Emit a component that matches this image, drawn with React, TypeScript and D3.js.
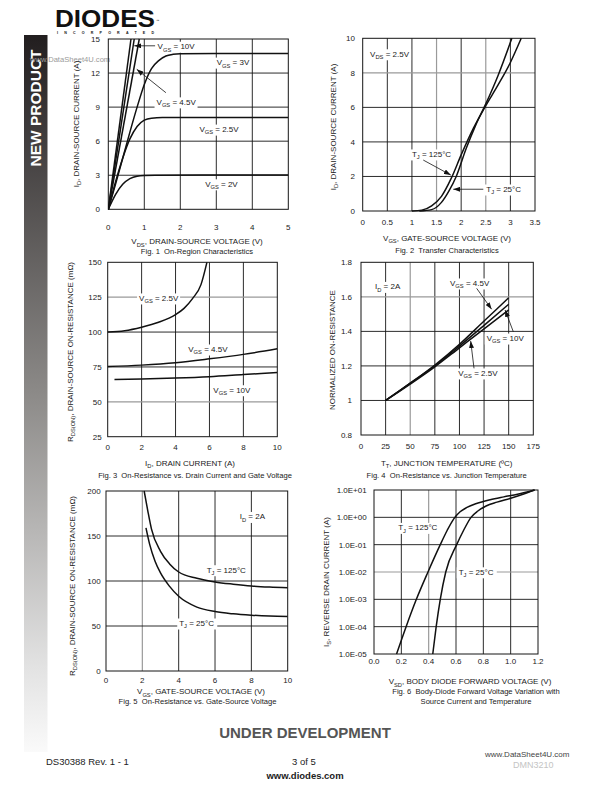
import React from 'react';
import * as d3 from 'd3';

const FONT = "'Liberation Sans', Arial, Helvetica, sans-serif";
type Pt = [number, number];

// ---------------- Fig. 1 On-Region Characteristics ----------------
const fig1XTicks = [0, 1, 2, 3, 4, 5];
const fig1YTicks = [0, 3, 6, 9, 12, 15];
const fig1Vgs10: Pt[] = [[0, 0], [0.63, 15]];
const fig1Vgs6: Pt[] = [[0, 0], [0.72, 15]];
const fig1Vgs45: Pt[] = [[0, 0], [0.86, 15]];
const fig1Vgs3: Pt[] = [[0, 0], [0.2, 2.2], [0.4, 4.5], [0.6, 6.8], [0.8, 9.0], [1.0, 11.0], [1.2, 12.4], [1.4, 13.1], [1.6, 13.5], [1.8, 13.65], [2.0, 13.7], [3, 13.72], [4, 13.72], [5, 13.72]];
const fig1Vgs25: Pt[] = [[0, 0], [0.2, 2.4], [0.4, 4.5], [0.6, 6.2], [0.8, 7.3], [1.0, 7.85], [1.2, 8.03], [1.5, 8.08], [3, 8.08], [5, 8.08]];
const fig1Vgs2: Pt[] = [[0, 0], [0.2, 1.3], [0.4, 2.2], [0.6, 2.7], [0.8, 2.92], [1.0, 2.98], [1.3, 3.0], [3, 3.02], [5, 3.03]];
const fig1Notes = [
  { text: 'V_{GS} = 10V', at: [1.37, 14.1] as Pt },
  { text: 'V_{GS} = 4.5V', at: [1.34, 9.2] as Pt },
  { text: 'V_{GS} = 3V', at: [3.01, 12.7] as Pt },
  { text: 'V_{GS} = 2.5V', at: [2.53, 6.8] as Pt },
  { text: 'V_{GS} = 2V', at: [2.69, 1.98] as Pt },
];
const fig1Arrows = [
  { from: [1.3, 14.4] as Pt, to: [0.72, 14.4] as Pt },
  { from: [1.6, 10.27] as Pt, to: [0.79, 12.33] as Pt },
];

// ---------------- Fig. 2 Transfer Characteristics ----------------
const fig2XTicks = [0, 0.5, 1, 1.5, 2, 2.5, 3, 3.5];
const fig2YTicks = [0, 2, 4, 6, 8, 10];
const fig2Tj125: Pt[] = [[1.0, 0], [1.2, 0.05], [1.4, 0.3], [1.6, 0.85], [1.8, 1.9], [2.0, 3.25], [2.25, 4.8], [2.5, 6.1], [2.75, 7.3], [3.0, 8.6], [3.22, 10]];
const fig2Tj25: Pt[] = [[1.15, 0], [1.4, 0.08], [1.6, 0.5], [1.75, 1.15], [1.9, 2.0], [2.1, 3.6], [2.3, 5.0], [2.5, 6.2], [2.75, 7.85], [3.03, 10]];
const fig2Notes = [
  { text: 'V_{DS} = 2.5V', at: [0.15, 8.93] as Pt },
  { text: 'T_{J} = 125°C', at: [1.0, 3.13] as Pt },
  { text: 'T_{J} = 25°C', at: [2.51, 1.1] as Pt },
];
const fig2Arrows = [
  { from: [1.23, 2.95] as Pt, to: [1.79, 2.08] as Pt },
  { from: [2.45, 1.26] as Pt, to: [1.84, 1.26] as Pt },
];

// ---------------- Fig. 3 On-Resistance vs Drain Current ----------------
const fig3XTicks = [0, 2, 4, 6, 8, 10];
const fig3YTicks = [25, 50, 75, 100, 125, 150];
const fig3Vgs25: Pt[] = [[0, 100], [1, 101], [2, 103.5], [3, 107], [4, 112.5], [4.5, 117], [5, 124], [5.5, 134], [5.85, 150]];
const fig3Vgs45: Pt[] = [[0, 75.3], [2, 76.3], [4, 78], [6, 80.8], [8, 84], [10, 88]];
const fig3Vgs10: Pt[] = [[0.4, 66], [2, 66.3], [4, 67], [6, 68], [8, 69.5], [10, 71]];
const fig3Notes = [
  { text: 'V_{GS} = 2.5V', at: [1.85, 122.3] as Pt },
  { text: 'V_{GS} = 4.5V', at: [4.75, 85.7] as Pt },
  { text: 'V_{GS} = 10V', at: [6.23, 56.5] as Pt },
];

// ---------------- Fig. 4 On-Resistance vs Junction Temperature ----------------
const fig4XTicks = [0, 25, 50, 75, 100, 125, 150, 175];
const fig4YTicks = [0.8, 1, 1.2, 1.4, 1.6, 1.8];
const fig4Vgs45: Pt[] = [[25, 1.0], [50, 1.1], [75, 1.205], [100, 1.325], [125, 1.46], [150, 1.595]];
const fig4Vgs10: Pt[] = [[25, 1.0], [50, 1.1], [75, 1.2], [100, 1.315], [125, 1.435], [150, 1.557]];
const fig4Vgs25: Pt[] = [[25, 1.0], [50, 1.095], [75, 1.195], [100, 1.305], [125, 1.415], [150, 1.524]];
const fig4Notes = [
  { text: 'I_{D} = 2A', at: [14.2, 1.643] as Pt },
  { text: 'V_{GS} = 4.5V', at: [90.4, 1.663] as Pt },
  { text: 'V_{GS} = 10V', at: [127.7, 1.344] as Pt },
  { text: 'V_{GS} = 2.5V', at: [98.8, 1.142] as Pt },
];
const fig4Arrows = [
  { from: [117.5, 1.649] as Pt, to: [132.7, 1.528] as Pt },
  { from: [154.7, 1.398] as Pt, to: [146.3, 1.524] as Pt },
  { from: [114.8, 1.186] as Pt, to: [111.4, 1.344] as Pt },
];

// ---------------- Fig. 5 On-Resistance vs Gate-Source Voltage ----------------
const fig5XTicks = [0, 2, 4, 6, 8, 10];
const fig5YTicks = [0, 50, 100, 150, 200];
const fig5Tj125: Pt[] = [[2.1, 200], [2.3, 178], [2.5, 158], [3, 133], [3.5, 119], [4, 110], [5, 103], [6, 99], [7, 96.5], [8, 94.5], [9, 93.3], [10, 92.5]];
const fig5Tj25: Pt[] = [[2.2, 159], [2.4, 141], [2.7, 122], [3, 109], [3.5, 94], [4, 83], [5, 71], [6, 66], [7, 63.5], [8, 62], [9, 61], [10, 60.5]];
const fig5Notes = [
  { text: 'I_{D} = 2A', at: [7.36, 168.4] as Pt },
  { text: 'T_{J} = 125°C', at: [5.54, 109.2] as Pt },
  { text: 'T_{J} = 25°C', at: [4.03, 50] as Pt },
];

// ---------------- Fig. 6 Body-Diode Forward Voltage ----------------
const fig6XTicks = [0, 0.2, 0.4, 0.6, 0.8, 1.0, 1.2];
const fig6YTicks = [1e-5, 1e-4, 1e-3, 1e-2, 1e-1, 1, 10];
const fig6Tj125: Pt[] = [[0.165, 1e-5], [0.235, 1e-4], [0.31, 1e-3], [0.395, 1e-2], [0.485, 0.1], [0.535, 0.33], [0.585, 0.9], [0.63, 1.6], [0.68, 2.3], [0.75, 3.2], [0.85, 4.4], [0.95, 5.6], [1.05, 7.0], [1.175, 10]];
const fig6Tj25: Pt[] = [[0.43, 1e-5], [0.455, 1e-4], [0.485, 1e-3], [0.525, 1e-2], [0.605, 0.1], [0.655, 0.33], [0.71, 1.0], [0.76, 1.7], [0.82, 2.6], [0.9, 3.6], [1.0, 5.0], [1.09, 7.0], [1.175, 10]];
const fig6Notes = [
  { text: 'T_{J} = 125°C', at: [0.177, 0.333] as Pt },
  { text: 'T_{J} = 25°C', at: [0.62, 0.0079] as Pt },
];

// ---------------- helpers ----------------
type Part = { t: string; sub: boolean };
function parseRich(s: string): Part[] {
  const out: Part[] = [];
  const re = /_\{([^}]*)\}/g;
  let last = 0;
  let m: RegExpExecArray | null;
  while ((m = re.exec(s))) {
    if (m.index > last) out.push({ t: s.slice(last, m.index), sub: false });
    out.push({ t: m[1], sub: true });
    last = m.index + m[0].length;
  }
  if (last < s.length) out.push({ t: s.slice(last), sub: false });
  return out;
}
function charW(c: string) {
  if (c === ' ' || c === '.' || c === ',') return 0.28;
  if (c === '=') return 0.584;
  if (c === '°') return 0.4;
  if (/[0-9]/.test(c)) return 0.556;
  if (/[A-Z]/.test(c)) return 0.68;
  return 0.5;
}
function estWidth(text: string, size: number) {
  return parseRich(text).reduce((w, p) => {
    const s = p.sub ? size * 0.72 : size;
    return w + [...p.t].reduce((a, c) => a + charW(c) * s, 0);
  }, 0);
}

function Rich(props: { x?: number; y?: number; text: string; size?: number; anchor?: string; fill?: string; weight?: string; transform?: string }) {
  const { x = 0, y = 0, text, size = 8, anchor = 'start', fill = '#1a1a1a', weight, transform } = props;
  const parts = parseRich(text);
  let off = 0;
  return (
    <text x={x} y={y} fontSize={size} textAnchor={anchor as any} fill={fill} fontFamily={FONT} fontWeight={weight} transform={transform} style={{ whiteSpace: 'pre' }}>
      {parts.map((p, i) => {
        const target = p.sub ? size * 0.3 : 0;
        const dy = target - off;
        off = target;
        return (
          <tspan key={i} dy={dy !== 0 ? dy : undefined} fontSize={p.sub ? size * 0.72 : undefined}>
            {p.t}
          </tspan>
        );
      })}
    </text>
  );
}

type ChartDef = {
  id: string;
  box: { l: number; r: number; t: number; b: number };
  xDomain: [number, number];
  yDomain: [number, number];
  yLog?: boolean;
  xTicks: number[];
  yTicks: number[];
  xFmt: (v: number) => string;
  yFmt: (v: number) => string;
  xGrid: number[];
  yGrid: number[];
  grayX?: number[];
  grayY?: number[];
  series: Pt[][];
  notes: { text: string; at: Pt }[];
  arrows?: { from: Pt; to: Pt }[];
  xTickY: number;
  yTickX: number;
  yLabel: string;
  yLabelX: number;
  yLabelY: number;
  xTitle: string;
  xTitleX: number;
  xTitleY: number;
  captions: string[];
  captionX: number;
  captionY: number;
};

function Chart({ c }: { c: ChartDef }) {
  const { box } = c;
  const x = d3.scaleLinear().domain(c.xDomain).range([box.l, box.r]);
  const y = (c.yLog ? d3.scaleLog() : d3.scaleLinear()).domain(c.yDomain).range([box.b, box.t]);
  const line = d3
    .line<Pt>()
    .x((d) => x(d[0]))
    .y((d) => y(d[1]))
    .curve(d3.curveMonotoneX);
  const clip = `clip-${c.id}`;
  const ink = '#141414';
  const fs = 8;
  return (
    <g>
      <defs>
        <clipPath id={clip}>
          <rect x={box.l} y={box.t - 1} width={box.r - box.l} height={box.b - box.t + 2} />
        </clipPath>
      </defs>
      {c.xGrid.map((v) => (
        <line key={'gx' + v} x1={x(v)} x2={x(v)} y1={box.t} y2={box.b} stroke={c.grayX?.includes(v) ? '#9a9a9a' : ink} strokeWidth={c.grayX?.includes(v) ? 1.2 : 0.9} />
      ))}
      {c.yGrid.map((v) => (
        <line key={'gy' + v} x1={box.l} x2={box.r} y1={y(v)} y2={y(v)} stroke={c.grayY?.includes(v) ? '#9a9a9a' : ink} strokeWidth={c.grayY?.includes(v) ? 1.2 : 0.9} />
      ))}
      <rect x={box.l} y={box.t} width={box.r - box.l} height={box.b - box.t} fill="none" stroke={ink} strokeWidth={1} />
      {c.notes.map((n, i) => {
        const w = estWidth(n.text, fs);
        return <rect key={'nb' + i} x={x(n.at[0]) - 2} y={y(n.at[1]) - 7.5} width={w + 4} height={11} fill="#fff" />;
      })}
      <g clipPath={`url(#${clip})`}>
        {c.series.map((s, i) => (
          <path key={'s' + i} d={line(s) || ''} fill="none" stroke="#111" strokeWidth={1.5} strokeLinejoin="round" />
        ))}
      </g>
      {c.notes.map((n, i) => (
        <Rich key={'n' + i} x={x(n.at[0])} y={y(n.at[1])} text={n.text} size={fs} />
      ))}
      {(c.arrows || []).map((a, i) => (
        <line key={'a' + i} x1={x(a.from[0])} y1={y(a.from[1])} x2={x(a.to[0])} y2={y(a.to[1])} stroke="#111" strokeWidth={0.8} markerEnd="url(#ah)" />
      ))}
      {c.xTicks.map((v) => (
        <text key={'xt' + v} x={x(v)} y={c.xTickY} fontSize={fs} textAnchor="middle" fontFamily={FONT} fill="#222">
          {c.xFmt(v)}
        </text>
      ))}
      {c.yTicks.map((v) => (
        <text key={'yt' + v} x={c.yTickX} y={y(v) + 3} fontSize={fs} textAnchor="end" fontFamily={FONT} fill="#222">
          {c.yFmt(v)}
        </text>
      ))}
      <Rich text={c.yLabel} size={fs} anchor="middle" transform={`translate(${c.yLabelX},${c.yLabelY}) rotate(-90)`} />
      <Rich x={c.xTitleX} y={c.xTitleY} text={c.xTitle} size={fs} anchor="middle" />
      {c.captions.map((t, i) => (
        <text key={'cap' + i} x={c.captionX} y={c.captionY + i * 10} fontSize={7.6} textAnchor="middle" fontFamily={FONT} fill="#1a1a1a" style={{ whiteSpace: 'pre' }}>
          {t}
        </text>
      ))}
    </g>
  );
}

const num = (v: number) => String(v);
const sciFmt = (v: number) => {
  const e = Math.round(Math.log10(v));
  return `1.0E${e >= 0 ? '+' : '-'}${String(Math.abs(e)).padStart(2, '0')}`;
};

const charts: ChartDef[] = [
  {
    id: 'f1', box: { l: 108.3, r: 288.3, t: 39, b: 209.3 }, xDomain: [0, 5], yDomain: [0, 15],
    xTicks: fig1XTicks, yTicks: fig1YTicks, xFmt: num, yFmt: num,
    xGrid: [1, 2, 3, 4], yGrid: [3, 6, 9, 12],
    series: [fig1Vgs10, fig1Vgs6, fig1Vgs45, fig1Vgs3, fig1Vgs25, fig1Vgs2], notes: fig1Notes, arrows: fig1Arrows,
    xTickY: 229.5, yTickX: 100, yLabel: 'I_{D}, DRAIN-SOURCE CURRENT (A)', yLabelX: 79, yLabelY: 124,
    xTitle: 'V_{DS}, DRAIN-SOURCE VOLTAGE (V)', xTitleX: 197, xTitleY: 244.3,
    captions: ['Fig. 1  On-Region Characteristics'], captionX: 197, captionY: 254.4,
  },
  {
    id: 'f2', box: { l: 362.7, r: 535, t: 38.3, b: 211 }, xDomain: [0, 3.5], yDomain: [0, 10],
    xTicks: fig2XTicks, yTicks: fig2YTicks, xFmt: num, yFmt: num,
    xGrid: [0.5, 1, 1.5, 2, 2.5, 3], yGrid: [2, 4, 6, 8], grayX: [1.5, 2.5], grayY: [8],
    series: [fig2Tj125, fig2Tj25], notes: fig2Notes, arrows: fig2Arrows,
    xTickY: 224.5, yTickX: 355, yLabel: 'I_{D}, DRAIN-SOURCE CURRENT (A)', yLabelX: 336, yLabelY: 127,
    xTitle: 'V_{GS}, GATE-SOURCE VOLTAGE (V)', xTitleX: 447, xTitleY: 241,
    captions: ['Fig. 2  Transfer Characteristics'], captionX: 447, captionY: 252.7,
  },
  {
    id: 'f3', box: { l: 107.7, r: 277.3, t: 262.3, b: 436.7 }, xDomain: [0, 10], yDomain: [25, 150],
    xTicks: fig3XTicks, yTicks: fig3YTicks, xFmt: num, yFmt: num,
    xGrid: [2, 4, 6, 8], yGrid: [50, 75, 100, 125], grayY: [50, 125],
    series: [fig3Vgs25, fig3Vgs45, fig3Vgs10], notes: fig3Notes,
    xTickY: 449.5, yTickX: 101.7, yLabel: 'R_{DS(ON)}, DRAIN-SOURCE ON-RESISTANCE (mΩ)', yLabelX: 73, yLabelY: 352,
    xTitle: 'I_{D}, DRAIN CURRENT (A)', xTitleX: 190, xTitleY: 466,
    captions: ['Fig. 3  On-Resistance vs. Drain Current and Gate Voltage'], captionX: 195, captionY: 478.4,
  },
  {
    id: 'f4', box: { l: 361, r: 533.3, t: 262.3, b: 435 }, xDomain: [0, 175], yDomain: [0.8, 1.8],
    xTicks: fig4XTicks, yTicks: fig4YTicks, xFmt: num, yFmt: num,
    xGrid: [25, 50, 75, 100, 125, 150], yGrid: [1, 1.2, 1.4, 1.6], grayX: [50], grayY: [1.6],
    series: [fig4Vgs45, fig4Vgs10, fig4Vgs25], notes: fig4Notes, arrows: fig4Arrows,
    xTickY: 448.5, yTickX: 352, yLabel: 'NORMALIZED ON-RESISTANCE', yLabelX: 335, yLabelY: 350,
    xTitle: 'T_{T}, JUNCTION TEMPERATURE (ºC)', xTitleX: 446.7, xTitleY: 466,
    captions: ['Fig. 4  On-Resistance vs. Junction Temperature'], captionX: 446.7, captionY: 477.7,
  },
  {
    id: 'f5', box: { l: 106, r: 287.7, t: 491, b: 671 }, xDomain: [0, 10], yDomain: [0, 200],
    xTicks: fig5XTicks, yTicks: fig5YTicks, xFmt: num, yFmt: num,
    xGrid: [2, 4, 6, 8], yGrid: [50, 100, 150], grayX: [2],
    series: [fig5Tj125, fig5Tj25], notes: fig5Notes,
    xTickY: 682.7, yTickX: 100.7, yLabel: 'R_{DS(ON)}, DRAIN-SOURCE ON-RESISTANCE (mΩ)', yLabelX: 75, yLabelY: 586,
    xTitle: 'V_{GS}, GATE-SOURCE VOLTAGE (V)', xTitleX: 201, xTitleY: 694.4,
    captions: ['Fig. 5  On-Resistance vs. Gate-Source Voltage'], captionX: 197.5, captionY: 704.4,
  },
  {
    id: 'f6', box: { l: 374, r: 538, t: 490, b: 654 }, xDomain: [0, 1.2], yDomain: [1e-5, 10], yLog: true,
    xTicks: fig6XTicks, yTicks: fig6YTicks, xFmt: (v) => v.toFixed(1), yFmt: sciFmt,
    xGrid: [0.2, 0.4, 0.6, 0.8, 1.0], yGrid: [1e-4, 1e-3, 1e-2, 1e-1, 1], grayX: [0.4], grayY: [1e-2],
    series: [fig6Tj125, fig6Tj25], notes: fig6Notes,
    xTickY: 664.4, yTickX: 366.7, yLabel: 'I_{S}, REVERSE DRAIN CURRENT (A)', yLabelX: 329, yLabelY: 582,
    xTitle: 'V_{SD}, BODY DIODE FORWARD VOLTAGE (V)', xTitleX: 470, xTitleY: 684.4,
    captions: ['Fig. 6  Body-Diode Forward Voltage Variation with', 'Source Current and Temperature'], captionX: 476, captionY: 694.4,
  },
];

export default function App() {
  return (
    <svg width={612} height={792} viewBox="0 0 612 792" style={{ position: 'absolute', left: 0, top: 0, background: '#fff' }}>
      <defs>
        <linearGradient id="bar" x1="0" y1="0" x2="0" y2="1">
          <stop offset="0" stopColor="#221e1f" />
          <stop offset="0.5" stopColor="#8c8a88" />
          <stop offset="0.88" stopColor="#e2e2e2" />
          <stop offset="1" stopColor="#fafafa" />
        </linearGradient>
        <marker id="ah" markerUnits="userSpaceOnUse" markerWidth="7" markerHeight="5" refX="7" refY="2.5" orient="auto">
          <path d="M0,0L7,2.5L0,5z" fill="#111" />
        </marker>
      </defs>
      <rect x={0} y={0} width={612} height={792} fill="#fff" />

      {/* side bar */}
      <rect x={24} y={35} width={23.5} height={717} fill="url(#bar)" />
      <text transform="translate(40.5,108) rotate(-90)" textAnchor="middle" fontFamily={FONT} fontWeight="bold" fontSize={15.5} fill="#fff">
        NEW PRODUCT
      </text>
      <text x={30} y={62} fontFamily={FONT} fontSize={7.6} fill="#9a9a9a">www.DataSheet4U.com</text>

      {/* logo */}
      <text x={55} y={26.5} fontFamily={FONT} fontWeight="900" fontSize={24} textLength={100} lengthAdjust="spacingAndGlyphs" fill="#111">
        DIODES
      </text>
      <text x={156} y={22} fontFamily={FONT} fontSize={3.5} fill="#111">™</text>
      <text x={57} y={34} fontFamily={FONT} fontWeight="bold" fontSize={3.6} textLength={97} lengthAdjust="spacing" fill="#111">
        INCORPORATED
      </text>

      {charts.map((c) => (
        <Chart key={c.id} c={c} />
      ))}

      {/* footer */}
      <text x={305} y={738} textAnchor="middle" fontFamily={FONT} fontWeight="bold" fontSize={15} fill="#555">
        UNDER DEVELOPMENT
      </text>
      <text x={46} y={765} fontFamily={FONT} fontSize={9.5} fill="#222">DS30388 Rev. 1 - 1</text>
      <text x={304} y={765} textAnchor="middle" fontFamily={FONT} fontSize={9.5} fill="#222">3 of 5</text>
      <text x={305} y={779} textAnchor="middle" fontFamily={FONT} fontWeight="bold" fontSize={9.5} fill="#222">www.diodes.com</text>
      <text x={513} y={767.5} fontFamily={FONT} fontSize={9} fill="#c4c4c4">DMN3210</text>
      <text x={485} y={757} fontFamily={FONT} fontSize={8} fill="#444">www.DataSheet4U.com</text>
    </svg>
  );
}
